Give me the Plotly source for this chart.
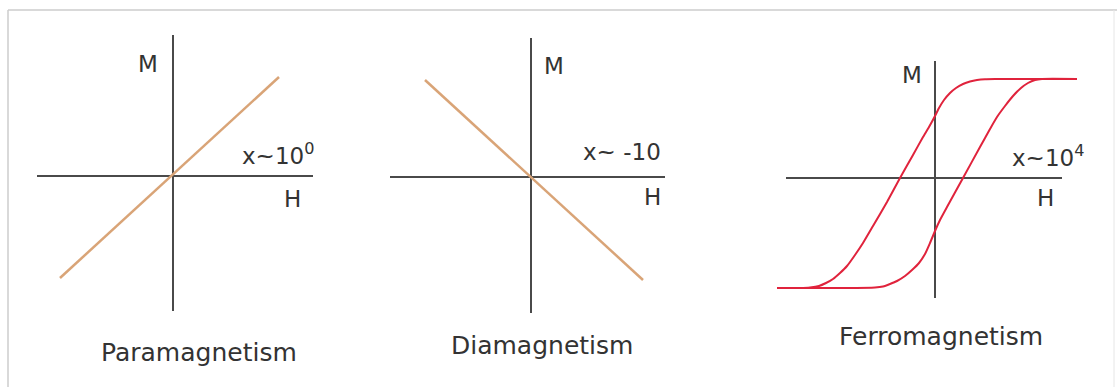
import plotly.graph_objects as go

W, H_PX = 1117, 387

# ---- data (H, M in arbitrary units) ----
para_H = [-1.13, 1.06]
para_M = [-1.02, 0.99]

dia_H = [-1.06, 1.12]
dia_M = [0.97, -1.03]

# hysteresis loop: descending branch (from +saturation to -saturation)
ferro_down_H = [1.42, 1.00, 0.60, 0.50, 0.42, 0.35, 0.28, 0.21, 0.15, 0.09, 0.04, 0.0,
                -0.06, -0.12, -0.22, -0.35, -0.48, -0.62, -0.72, -0.80, -0.88, -0.95,
                -1.02, -1.09, -1.16, -1.25, -1.35, -1.58]
ferro_down_M = [0.99, 0.99, 0.99, 0.988, 0.98, 0.965, 0.94, 0.90, 0.85, 0.78, 0.70, 0.62,
                0.51, 0.41, 0.23, 0.0, -0.24, -0.48, -0.65, -0.77, -0.88, -0.95,
                -1.01, -1.05, -1.08, -1.095, -1.10, -1.10]
# ascending branch (from -saturation to +saturation)
ferro_up_H = [-1.58, -0.90, -0.60, -0.52, -0.45, -0.38, -0.30, -0.23, -0.16, -0.10, -0.05,
              0.0, 0.05, 0.12, 0.28, 0.45, 0.55, 0.62, 0.70, 0.78, 0.86, 0.93, 1.00, 1.07, 1.42]
ferro_up_M = [-1.10, -1.10, -1.095, -1.085, -1.06, -1.03, -0.98, -0.92, -0.85, -0.76, -0.65,
              -0.53, -0.42, -0.29, 0.0, 0.31, 0.49, 0.61, 0.72, 0.82, 0.90, 0.95, 0.98, 0.99, 0.99]

# axis extents (H span, M span) for each panel
para_axis_H = [-1.36, 1.40]
para_axis_M = [-1.35, 1.41]
dia_axis_H = [-1.41, 1.34]
dia_axis_M = [-1.36, 1.39]
ferro_axis_H = [-1.49, 1.27]
ferro_axis_M = [-1.20, 1.17]

panel_titles = ["Paramagnetism", "Diamagnetism", "Ferromagnetism"]
chi_labels = ["x~10<sup>0</sup>", "x~ -10", "x~10<sup>4</sup>"]

# ---- layout geometry (pixels) ----
PX_PER_UNIT = 100.0
panels = [
    # origin px, domain x px, domain y px (top, bottom)
    dict(ox=173, oy=176, dx=(25, 330), dy=(25, 325)),
    dict(ox=531, oy=177, dx=(380, 680), dy=(25, 325)),
    dict(ox=935, oy=178, dx=(765, 1095), dy=(25, 325)),
]

AXIS_COLOR = "#4a4a4a"
LINE_TAN = "#d9a477"
LINE_RED = "#e0233c"
TEXT_COLOR = "#333333"
FONT = "'DejaVu Sans', sans-serif"

fig = go.Figure()
layout = dict(width=W, height=H_PX, margin=dict(l=0, r=0, t=0, b=0),
              paper_bgcolor="white", plot_bgcolor="rgba(0,0,0,0)", showlegend=False)

for i, p in enumerate(panels, start=1):
    xk = "xaxis" if i == 1 else f"xaxis{i}"
    yk = "yaxis" if i == 1 else f"yaxis{i}"
    xr = [(p["dx"][0] - p["ox"]) / PX_PER_UNIT, (p["dx"][1] - p["ox"]) / PX_PER_UNIT]
    yr = [-(p["dy"][1] - p["oy"]) / PX_PER_UNIT, (p["oy"] - p["dy"][0]) / PX_PER_UNIT]
    layout[xk] = dict(domain=[p["dx"][0] / W, p["dx"][1] / W], range=xr, visible=False,
                      anchor=f"y{'' if i == 1 else i}")
    layout[yk] = dict(domain=[1 - p["dy"][1] / H_PX, 1 - p["dy"][0] / H_PX], range=yr,
                      visible=False, anchor=f"x{'' if i == 1 else i}")

axes_spans = [(para_axis_H, para_axis_M), (dia_axis_H, dia_axis_M), (ferro_axis_H, ferro_axis_M)]
for i, (hs, ms) in enumerate(axes_spans, start=1):
    xa = "x" if i == 1 else f"x{i}"
    ya = "y" if i == 1 else f"y{i}"
    fig.add_trace(go.Scatter(x=hs, y=[0, 0], mode="lines", xaxis=xa, yaxis=ya,
                             line=dict(color=AXIS_COLOR, width=2), hoverinfo="skip"))
    fig.add_trace(go.Scatter(x=[0, 0], y=ms, mode="lines", xaxis=xa, yaxis=ya,
                             line=dict(color=AXIS_COLOR, width=2), hoverinfo="skip"))

fig.add_trace(go.Scatter(x=para_H, y=para_M, mode="lines", xaxis="x", yaxis="y",
                         line=dict(color=LINE_TAN, width=2.5), name="Paramagnetism"))
fig.add_trace(go.Scatter(x=dia_H, y=dia_M, mode="lines", xaxis="x2", yaxis="y2",
                         line=dict(color=LINE_TAN, width=2.5), name="Diamagnetism"))
fig.add_trace(go.Scatter(x=ferro_down_H, y=ferro_down_M, mode="lines", xaxis="x3", yaxis="y3",
                         line=dict(color=LINE_RED, width=2, shape="spline", smoothing=0.5),
                         name="Ferromagnetism (decreasing H)"))
fig.add_trace(go.Scatter(x=ferro_up_H, y=ferro_up_M, mode="lines", xaxis="x3", yaxis="y3",
                         line=dict(color=LINE_RED, width=2, shape="spline", smoothing=0.5),
                         name="Ferromagnetism (increasing H)"))

# text labels (pixel positions)
LBL, TTL = 23, 25
labels = [
    ("M", 148, 64, LBL), (chi_labels[0], 278, 154, LBL), ("H", 292, 199, LBL),
    (panel_titles[0], 199, 352, TTL),
    ("M", 554, 66, LBL), (chi_labels[1], 622, 152, LBL), ("H", 652, 197, LBL),
    (panel_titles[1], 542, 345, TTL),
    ("M", 912, 75, LBL), (chi_labels[2], 1048, 156, LBL), ("H", 1045, 198, LBL),
    (panel_titles[2], 941, 336, TTL),
]
annotations = []
for text, x, y, size in labels:
    annotations.append(dict(text=text, x=x / W, y=1 - y / H_PX, xref="paper", yref="paper",
                            xanchor="center", yanchor="middle", showarrow=False,
                            font=dict(family=FONT, size=size, color=TEXT_COLOR)))
layout["annotations"] = annotations

# light frame around the figure
frame = "#cdcdcd"
layout["shapes"] = [
    dict(type="line", xref="paper", yref="paper", x0=8 / W, x1=1, y0=1 - 10 / H_PX, y1=1 - 10 / H_PX,
         line=dict(color=frame, width=1.5)),
    dict(type="line", xref="paper", yref="paper", x0=8 / W, x1=8 / W, y0=0, y1=1 - 10 / H_PX,
         line=dict(color=frame, width=1.5)),
    dict(type="line", xref="paper", yref="paper", x0=1114 / W, x1=1114 / W, y0=0, y1=1 - 10 / H_PX,
         line=dict(color="#e6e6e6", width=1)),
]

fig.update_layout(**layout)
fig.write_html("out.html")
